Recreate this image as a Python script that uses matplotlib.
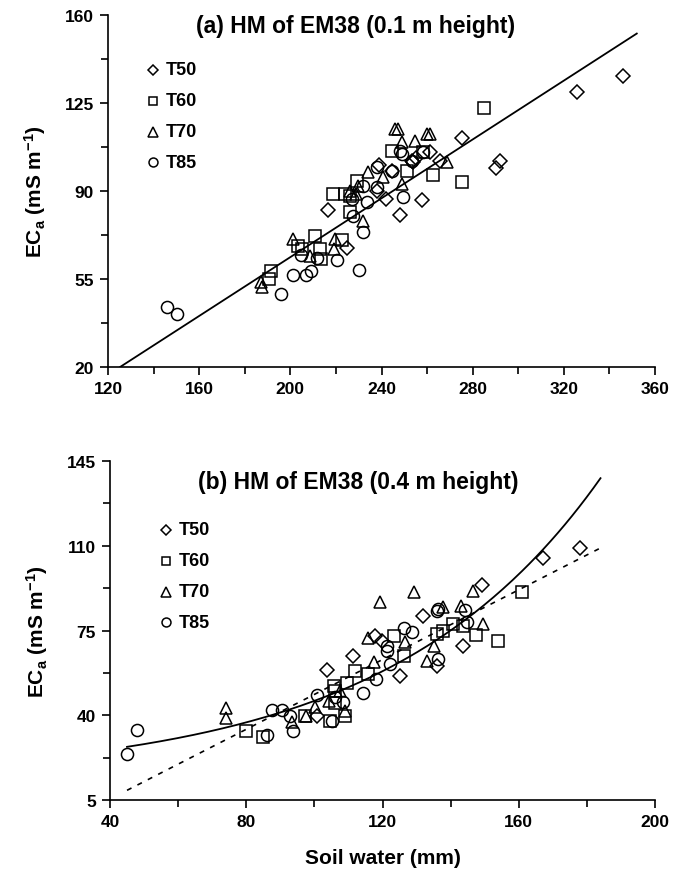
import numpy as np
import matplotlib
matplotlib.use("Agg")
import matplotlib.pyplot as plt
from matplotlib.ticker import FixedLocator

plt.rcParams['font.family'] = ['Liberation Sans', 'DejaVu Sans']
plt.rcParams['font.weight'] = 'bold'
plt.rcParams['mathtext.fontset'] = 'custom'
plt.rcParams['mathtext.rm'] = 'Liberation Sans:bold'
plt.rcParams['mathtext.bf'] = 'Liberation Sans:bold'
plt.rcParams['mathtext.default'] = 'rm'

series = ["T50", "T60", "T70", "T85"]
markers = ["D", "s", "^", "o"]
msizes = [7.3, 8.2, 9, 8.7]

# ---- panel (a): HM of EM38 at 0.1 m ----
a_xticks = [120, 160, 200, 240, 280, 320, 360]
a_yticks = [20, 55, 90, 125, 160]
a_T50_x = [345.8, 325.6, 275.5, 292.0, 290.2, 261.3, 253.8, 265.6, 244.5, 257.6, 216.7, 224.7, 248.0, 239.0, 242.0, 237.9, 253.3, 255.0]
a_T50_y = [135.9, 129.2, 111.1, 102.0, 99.2, 105.5, 101.5, 102.0, 98.0, 86.5, 82.6, 67.2, 80.5, 100.3, 86.8, 90.1, 102.0, 103.0]
a_T60_x = [285.1, 275.2, 262.7, 244.5, 251.3, 218.9, 224.0, 226.2, 229.1, 226.2, 191.5, 190.8, 203.5, 205.0, 211.0, 213.0, 213.3, 222.5, 258.4]
a_T60_y = [123.0, 93.7, 96.4, 106.0, 98.1, 88.8, 88.8, 88.1, 94.1, 81.5, 58.3, 55.0, 68.3, 67.0, 72.3, 67.0, 63.0, 70.6, 105.6]
a_T70_x = [245.9, 247.4, 259.8, 261.3, 254.7, 248.9, 268.6, 248.9, 234.2, 229.8, 232.0, 187.1, 187.4, 201.3, 208.6, 219.6, 219.2, 229.0, 240.8, 226.0]
a_T70_y = [114.7, 114.7, 112.7, 112.7, 110.0, 109.4, 101.4, 92.8, 97.4, 92.1, 78.2, 53.7, 51.7, 70.9, 64.0, 70.9, 67.0, 88.8, 95.4, 90.0]
a_T85_x = [248.1, 248.9, 253.3, 258.4, 249.6, 237.9, 226.9, 232.0, 233.5, 227.4, 231.7, 145.7, 150.1, 195.9, 201.0, 206.9, 209.0, 204.5, 211.8, 220.3, 230.3, 244.5, 237.9]
a_T85_y = [106.0, 104.7, 102.0, 105.6, 87.5, 99.4, 86.8, 91.9, 85.5, 80.0, 73.6, 44.0, 41.1, 48.9, 56.7, 56.6, 58.0, 64.5, 63.3, 62.7, 58.7, 98.1, 91.5]
a_fit_x = [125.3, 352.0]
a_fit_coef = [-53.3, 0.585]   # intercept, slope

# ---- panel (b): HM of EM38 at 0.4 m ----
b_xticks = [40, 80, 120, 160, 200]
b_yticks = [5, 40, 75, 110, 145]
b_T50_x = [149.3, 131.8, 143.7, 117.8, 119.8, 135.9, 111.2, 125.1, 103.6, 100.7, 167.0, 178.0]
b_T50_y = [93.9, 81.1, 68.5, 72.6, 70.8, 60.5, 64.3, 56.3, 58.7, 39.8, 105.0, 109.0]
b_T60_x = [140.6, 143.7, 137.8, 135.9, 147.5, 154.0, 123.4, 126.3, 111.9, 115.8, 109.5, 105.8, 106.1, 106.1, 109.0, 104.6, 97.3, 80.0, 85.0, 161.0]
b_T60_y = [77.7, 77.0, 74.9, 73.5, 73.3, 70.8, 72.9, 64.6, 58.4, 57.0, 53.3, 52.2, 50.1, 45.0, 39.8, 37.7, 39.8, 33.5, 31.0, 91.0]
b_T70_x = [119.3, 129.3, 146.5, 137.7, 143.0, 149.5, 115.8, 126.6, 135.2, 133.0, 117.5, 107.5, 104.4, 100.2, 109.0, 97.5, 93.3, 74.0, 74.0]
b_T70_y = [86.6, 90.8, 91.4, 84.6, 85.2, 77.7, 71.9, 70.1, 68.5, 62.5, 62.1, 50.1, 46.0, 43.3, 41.9, 39.8, 37.3, 43.0, 39.0]
b_T85_x = [135.9, 136.4, 144.2, 144.7, 126.3, 128.8, 121.2, 121.2, 136.4, 122.2, 118.1, 114.2, 100.9, 106.1, 108.5, 87.5, 90.4, 93.6, 92.8, 105.1, 86.0, 45.0, 48.0]
b_T85_y = [83.2, 83.9, 83.5, 78.4, 75.9, 74.5, 68.7, 66.7, 63.2, 61.2, 55.0, 49.0, 48.5, 47.4, 45.3, 42.3, 42.3, 33.6, 39.8, 37.7, 32.0, 24.0, 34.0]
b_fit_range = [45.0, 184.0]
b_exp_coef = [13.5, 6.55, 0.016]   # c + a*exp(b*x)
b_lin_coef = [-23.4, 0.72]

fig = plt.figure(figsize=(6.78, 8.87), dpi=100)
ax1 = fig.add_axes([108/678, 1 - 368/887, (655 - 108)/678, (368 - 16)/887])
ax2 = fig.add_axes([110/678, 1 - 801/887, (655 - 110)/678, (801 - 462)/887])

def style(ax, xt, yt):
    ax.set_xlim(xt[0], xt[-1])
    ax.set_ylim(yt[0], yt[-1])
    ax.xaxis.set_major_locator(FixedLocator(xt))
    ax.yaxis.set_major_locator(FixedLocator(yt))
    ax.xaxis.set_minor_locator(FixedLocator([(a + b) / 2 for a, b in zip(xt[:-1], xt[1:])]))
    ax.yaxis.set_minor_locator(FixedLocator([(a + b) / 2 for a, b in zip(yt[:-1], yt[1:])]))
    for s in ["top", "right"]:
        ax.spines[s].set_visible(False)
    for s in ["left", "bottom"]:
        ax.spines[s].set_linewidth(1.2)
    ax.tick_params(which="major", direction="out", length=6, width=1.2, labelsize=12.5, pad=4)
    ax.tick_params(which="minor", direction="out", length=5, width=1.2)
    for lab in ax.get_xticklabels() + ax.get_yticklabels():
        lab.set_fontweight("bold")

def scatter_sets(ax, xs, ys):
    for x, y, m, ms in zip(xs, ys, markers, msizes):
        ax.plot(x, y, linestyle="none", marker=m, markersize=ms,
                markerfacecolor="none", markeredgecolor="black", markeredgewidth=1.1, clip_on=False)

def legend(ax, x0, y0, dy):
    for i, (lab, m, ms) in enumerate(zip(series, markers, msizes)):
        ax.plot([x0], [y0 - i*dy], transform=ax.transAxes, linestyle="none", marker=m,
                markersize=ms*0.74, markerfacecolor="none", markeredgecolor="black",
                markeredgewidth=1.1, clip_on=False)
        ax.text(x0 + 0.024, y0 - i*dy, lab, transform=ax.transAxes, ha="left", va="center",
                fontsize=13, fontweight="bold")

# panel a
scatter_sets(ax1, [a_T50_x, a_T60_x, a_T70_x, a_T85_x], [a_T50_y, a_T60_y, a_T70_y, a_T85_y])
fx = np.array(a_fit_x)
ax1.plot(fx, a_fit_coef[0] + a_fit_coef[1]*fx, color="black", lw=1.3)
style(ax1, a_xticks, a_yticks)
ax1.text(0.4525, 0.969, "(a) HM of EM38 (0.1 m height)", transform=ax1.transAxes,
         ha="center", va="center", fontsize=16.5, fontweight="bold")
legend(ax1, 0.082, 0.845, 0.088)
ax1.set_ylabel(r"EC$_{a}$ (mS m$^{-1}$)", fontsize=15, fontweight="bold", labelpad=12)

# panel b
scatter_sets(ax2, [b_T50_x, b_T60_x, b_T70_x, b_T85_x], [b_T50_y, b_T60_y, b_T70_y, b_T85_y])
gx = np.linspace(b_fit_range[0], b_fit_range[1], 200)
ax2.plot(gx, b_exp_coef[0] + b_exp_coef[1]*np.exp(b_exp_coef[2]*gx), color="black", lw=1.3)
ax2.plot(gx, b_lin_coef[0] + b_lin_coef[1]*gx, color="black", lw=1.2, linestyle=(0, (3, 4)))
style(ax2, b_xticks, b_yticks)
ax2.text(0.455, 0.94, "(b) HM of EM38 (0.4 m height)", transform=ax2.transAxes,
         ha="center", va="center", fontsize=16.5, fontweight="bold")
legend(ax2, 0.103, 0.797, 0.091)
ax2.set_ylabel(r"EC$_{a}$ (mS m$^{-1}$)", fontsize=15, fontweight="bold", labelpad=12)
ax2.set_xlabel("Soil water (mm)", fontsize=15, fontweight="bold", labelpad=14)

fig.savefig("out.png", dpi=100)
